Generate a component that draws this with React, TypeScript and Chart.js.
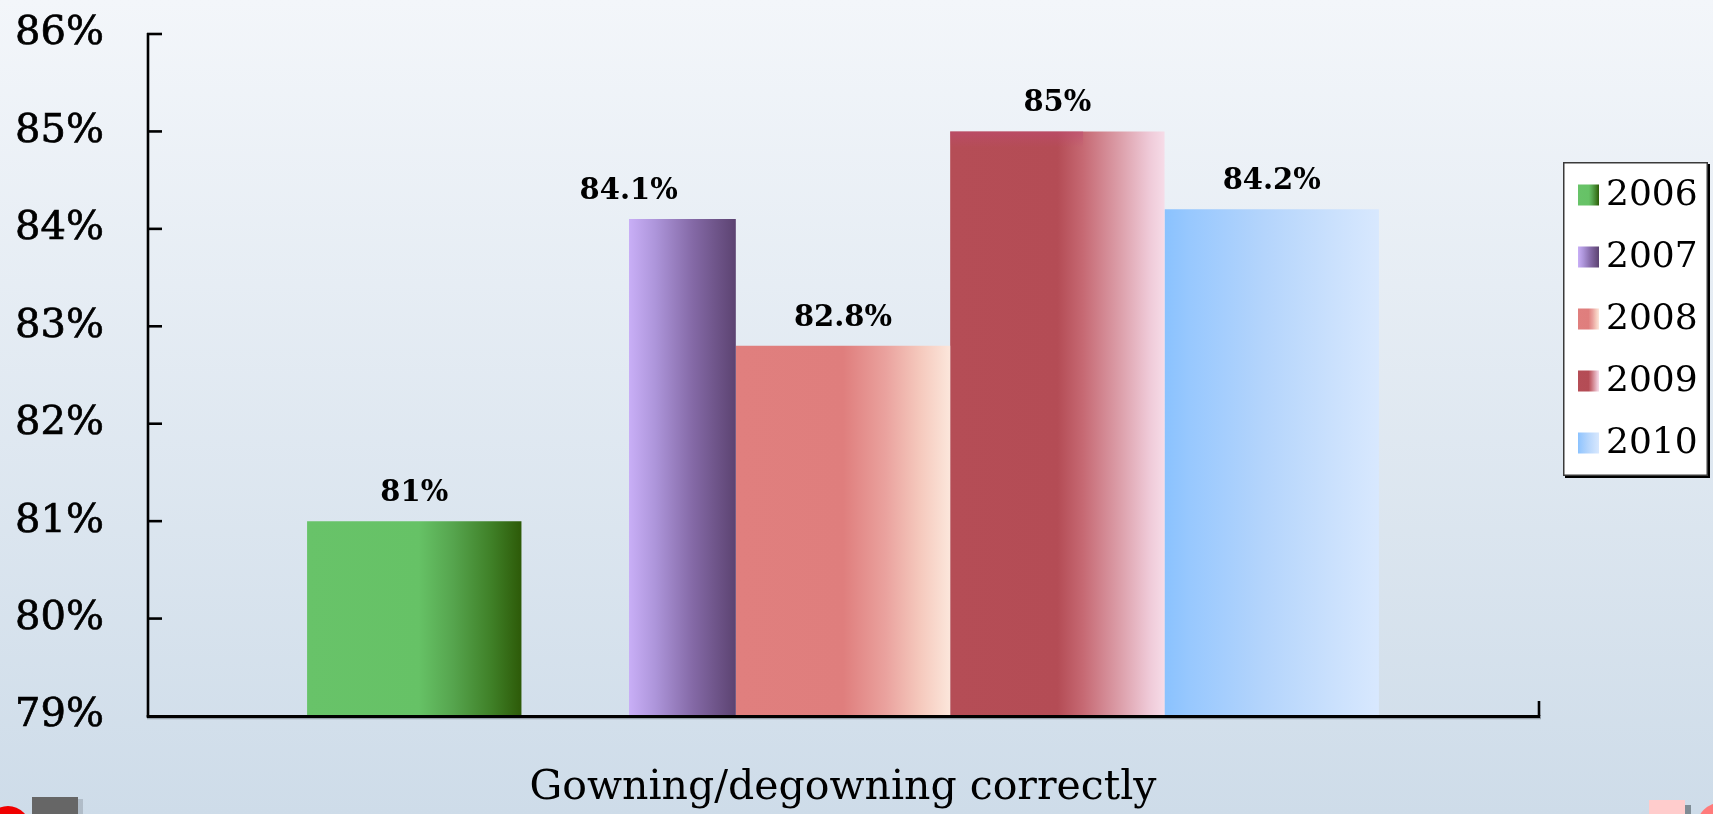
import React, { useEffect, useRef } from 'react';
import { Chart, registerables } from 'chart.js';

Chart.register(...registerables);

// ---- data ----
const categories = ['Gowning/degowning correctly'];
const years = ['2006', '2007', '2008', '2009', '2010'];
const values = [81, 84.1, 82.8, 85, 84.2];
const yMin = 79;
const yMax = 86;
const yStep = 1;

// ---- styling ----
const W = 1713;
const H = 814;
const CAT_PCT = 0.77;
const SERIF = '"DejaVu Serif", "Liberation Serif", serif';

// horizontal gradient stops for each series
const barStops: [number, string][][] = [
  [[0, '#68C369'], [0.52, '#66C266'], [0.68, '#56A54E'], [0.86, '#3F8027'], [1, '#2D5A08']],
  [[0, '#C9AFF7'], [0.25, '#AD95DA'], [0.6, '#8469A6'], [1, '#5C4371']],
  [[0, '#E07F7E'], [0.5, '#DF7E7D'], [0.7, '#EAA29E'], [0.86, '#F5C9BD'], [1, '#FCE6DB']],
  [[0, '#B54D56'], [0.5, '#B44C55'], [0.62, '#C66973'], [0.8, '#DDA1AC'], [0.93, '#EFCAD8'], [1, '#F6DCE8']],
  [[0, '#8AC2FE'], [0.12, '#98C8FE'], [0.45, '#B3D4FC'], [0.8, '#CBE1FD'], [1, '#D8E8FE']],
];
// share of each bar slot left unpainted on its left side (the 2007 bar shows only its right half)
const blankLead = [0, 0.5, 0, 0, 0];

function makeGradient(
  ctx: CanvasRenderingContext2D,
  left: number,
  right: number,
  stops: [number, string][],
  lead: number
) {
  const g = ctx.createLinearGradient(left, 0, right, 0);
  if (lead > 0) {
    g.addColorStop(0, 'rgba(0,0,0,0)');
    g.addColorStop(lead, 'rgba(0,0,0,0)');
  }
  stops.forEach(([o, c]) => g.addColorStop(lead + o * (1 - lead), c));
  return g;
}

function barFill(chart: any, di: number, idx: number) {
  const xs = chart.scales?.x;
  if (!xs || !chart.chartArea) return barStops[di][0][1];
  const perCat = xs.width / categories.length;
  const slot = perCat * CAT_PCT;
  const chunk = slot / years.length;
  const left = xs.getPixelForValue(idx) - slot / 2 + di * chunk;
  return makeGradient(chart.ctx, left, left + chunk, barStops[di], blankLead[di]);
}

const framePlugin = {
  id: 'frame',
  beforeDraw(chart: any) {
    const ctx: CanvasRenderingContext2D = chart.ctx;
    ctx.save();
    const bg = ctx.createLinearGradient(0, 0, 0, H);
    bg.addColorStop(0, '#F3F6FA');
    bg.addColorStop(1, '#CEDCE9');
    ctx.fillStyle = bg;
    ctx.fillRect(0, 0, W, H);

    // slide ornaments along the bottom edge
    ctx.fillStyle = '#F00000';
    ctx.beginPath();
    ctx.arc(8, 828, 22, 0, Math.PI * 2);
    ctx.fill();
    ctx.fillStyle = 'rgba(120,130,140,0.35)';
    ctx.fillRect(78, 799, 5, 15);
    ctx.fillStyle = '#666666';
    ctx.fillRect(32, 797, 46, 17);

    ctx.fillStyle = '#FFCCCC';
    ctx.fillRect(1649, 800, 36, 14);
    ctx.fillStyle = '#7F8C95';
    ctx.fillRect(1685, 805, 6, 9);
    ctx.fillStyle = '#FF7B7B';
    ctx.beginPath();
    ctx.arc(1720, 826, 23, 0, Math.PI * 2);
    ctx.fill();
    ctx.restore();
  },
  afterDatasetsDraw(chart: any) {
    const ctx: CanvasRenderingContext2D = chart.ctx;
    const { left, right, top, bottom } = chart.chartArea;
    const ys = chart.scales.y;
    ctx.save();

    // soft band along the top of the 2009 bar
    const m09 = chart.getDatasetMeta(3);
    m09.data.forEach((el: any) => {
      const x0 = el.x - el.width / 2;
      const g = ctx.createLinearGradient(0, el.y, 0, el.y + 16);
      g.addColorStop(0, 'rgba(190,75,115,0.55)');
      g.addColorStop(1, 'rgba(190,75,115,0)');
      ctx.fillStyle = g;
      ctx.fillRect(x0, el.y, el.width * 0.62, 16);
    });

    // axis lines
    ctx.strokeStyle = 'rgba(90,100,110,0.5)';
    ctx.lineWidth = 1.5;
    ctx.beginPath();
    ctx.moveTo(left, bottom + 2.5);
    ctx.lineTo(right + 2, bottom + 2.5);
    ctx.stroke();

    ctx.strokeStyle = '#000';
    ctx.lineWidth = 2.6;
    ctx.beginPath();
    ctx.moveTo(left + 1, top - 1);
    ctx.lineTo(left + 1, bottom + 1);
    ctx.stroke();

    ctx.lineWidth = 3;
    ctx.beginPath();
    ctx.moveTo(left - 0.3, bottom + 0.5);
    ctx.lineTo(right + 1.3, bottom + 0.5);
    ctx.stroke();

    // inward tick marks on the value axis
    ctx.lineWidth = 2.6;
    ys.ticks.forEach((t: any) => {
      if (t.value === yMin) return;
      const y = ys.getPixelForValue(t.value);
      ctx.beginPath();
      ctx.moveTo(left, y);
      ctx.lineTo(left + 15, y);
      ctx.stroke();
    });
    // closing tick at the end of the category axis
    ctx.beginPath();
    ctx.moveTo(right, bottom);
    ctx.lineTo(right, bottom - 15);
    ctx.stroke();

    // value labels above bars
    ctx.fillStyle = '#000';
    ctx.font = `bold 29px ${SERIF}`;
    ctx.textAlign = 'center';
    ctx.textBaseline = 'alphabetic';
    chart.data.datasets.forEach((ds: any, i: number) => {
      const meta = chart.getDatasetMeta(i);
      meta.data.forEach((el: any, j: number) => {
        ctx.fillText(`${ds.data[j]}%`, el.x, el.y - 20);
      });
    });
    ctx.restore();
  },
  afterDraw(chart: any) {
    const ctx: CanvasRenderingContext2D = chart.ctx;
    const bx = 1563;
    const by = 162;
    const bw = 145;
    const bh = 314;
    ctx.save();
    // box with a drop shadow on the right/bottom
    ctx.fillStyle = '#000';
    ctx.fillRect(bx + 2, by + 2, bw, bh);
    ctx.fillStyle = '#FFFFFF';
    ctx.fillRect(bx, by, bw, bh);
    ctx.strokeStyle = '#3A3A3A';
    ctx.lineWidth = 1.5;
    ctx.strokeRect(bx + 0.75, by + 0.75, bw - 1.5, bh - 1.5);

    ctx.font = `36px ${SERIF}`;
    ctx.textAlign = 'left';
    ctx.textBaseline = 'middle';
    chart.data.datasets.forEach((ds: any, i: number) => {
      const cy = 195 + i * 62;
      const mx = 1578;
      const ms = 21;
      ctx.fillStyle = makeGradient(ctx, mx, mx + ms, barStops[i], 0);
      ctx.fillRect(mx, cy - ms / 2, ms, ms);
      ctx.fillStyle = '#000';
      ctx.fillText(ds.label, 1606, cy + 1);
    });
    ctx.restore();
  },
};

export default function App() {
  const canvasRef = useRef<HTMLCanvasElement | null>(null);

  useEffect(() => {
    const canvas = canvasRef.current;
    if (!canvas) return;
    const chart = new Chart(canvas, {
      type: 'bar',
      data: {
        labels: categories,
        datasets: years.map((y, i) => ({
          label: y,
          data: [values[i]],
          backgroundColor: (c: any) => barFill(c.chart, c.datasetIndex, c.dataIndex),
          borderWidth: 0,
          categoryPercentage: CAT_PCT,
          barPercentage: 1,
        })),
      },
      options: {
        responsive: false,
        devicePixelRatio: 1,
        animation: false,
        layout: { padding: { top: 34, right: 174, left: 0, bottom: 0 } },
        plugins: {
          legend: { display: false },
          tooltip: { enabled: false },
        },
        scales: {
          x: {
            type: 'category',
            grid: { display: false, drawTicks: false },
            border: { display: false },
            ticks: {
              color: '#000',
              font: { family: SERIF, size: 41 },
              padding: 48,
              maxRotation: 0,
              autoSkip: false,
            },
            afterFit: (s: any) => {
              s.height = 98;
              s.paddingLeft = 0;
              s.paddingRight = 0;
            },
          },
          y: {
            min: yMin,
            max: yMax,
            grid: { display: false, drawTicks: false },
            border: { display: false },
            ticks: {
              stepSize: yStep,
              color: '#000',
              font: { family: SERIF, size: 40 },
              textStrokeColor: '#000',
              textStrokeWidth: 0.7,
              padding: 43,
              callback: (v: any) => `${v}%`,
            },
            afterFit: (s: any) => {
              s.width = 147;
              s.paddingTop = 0;
              s.paddingBottom = 0;
            },
          },
        },
      } as any,
      plugins: [framePlugin],
    });
    return () => chart.destroy();
  }, []);

  return (
    <div style={{ position: 'fixed', left: 0, top: 0, width: W, height: H, overflow: 'hidden' }}>
      <canvas ref={canvasRef} width={W} height={H} style={{ display: 'block', width: W, height: H }} />
    </div>
  );
}
